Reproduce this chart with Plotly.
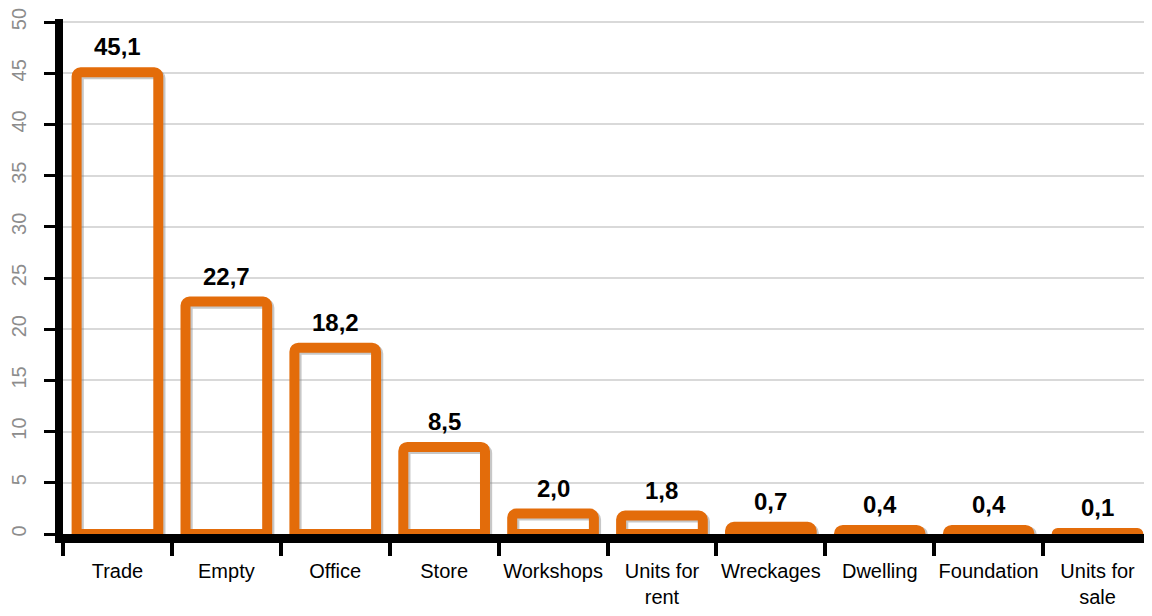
import plotly.graph_objects as go

categories = ["Trade", "Empty", "Office", "Store", "Workshops", "Units for<br>rent",
              "Wreckages", "Dwelling", "Foundation", "Units for<br>sale"]
values = [45.1, 22.7, 18.2, 8.5, 2.0, 1.8, 0.7, 0.4, 0.4, 0.1]
labels = ["45,1", "22,7", "18,2", "8,5", "2,0", "1,8", "0,7", "0,4", "0,4", "0,1"]
y_ticks = [0, 5, 10, 15, 20, 25, 30, 35, 40, 45, 50]

BAR_W = 0.75
ORANGE = "#E36C0A"
FONT = "Liberation Sans, Arial, sans-serif"

fig = go.Figure()
# soft shadow behind the outline
fig.add_trace(go.Bar(
    x=categories, y=[max(v - 0.2, 0) for v in values],
    width=BAR_W, offset=-BAR_W / 2 + 0.02,
    marker=dict(color="rgba(0,0,0,0)", line=dict(color="rgba(130,130,130,0.45)", width=10),
                cornerradius=4),
    hoverinfo="skip",
))
fig.add_trace(go.Bar(
    x=categories, y=values,
    width=BAR_W, offset=-BAR_W / 2,
    marker=dict(color="rgba(0,0,0,0)", line=dict(color=ORANGE, width=10), cornerradius=4),
))

for c, v, t in zip(categories, values, labels):
    fig.add_annotation(
        x=c, y=v, text=t, showarrow=False, yanchor="bottom", yshift=10,
        font=dict(family=FONT, size=24, color="black", weight="bold"),
    )

fig.update_layout(
    width=1144, height=600,
    margin=dict(l=49, r=0, t=8, b=68),
    paper_bgcolor="white", plot_bgcolor="white",
    showlegend=False, barmode="overlay",
    font=dict(family=FONT, size=20, color="black"),
)
fig.update_xaxes(
    showline=True, linecolor="black", linewidth=9,
    ticks="outside", ticklen=13, tickwidth=4, tickcolor="black",
    tickson="boundaries", showgrid=False, tickangle=0,
    ticklabelstandoff=11, ticklabeloverflow="allow",
    tickfont=dict(size=20, color="black"),
)
fig.update_yaxes(
    range=[0, 50.3], tickvals=y_ticks, tickangle=-90,
    showline=True, linecolor="black", linewidth=8,
    ticks="outside", ticklen=11, tickwidth=3, tickcolor="black",
    showgrid=True, gridcolor="#D9D9D9", gridwidth=1.5,
    zeroline=False, ticklabelstandoff=10, ticklabeloverflow="allow",
    tickfont=dict(size=20, color="#8C8C8C"),
)
fig.write_html("out.html")
